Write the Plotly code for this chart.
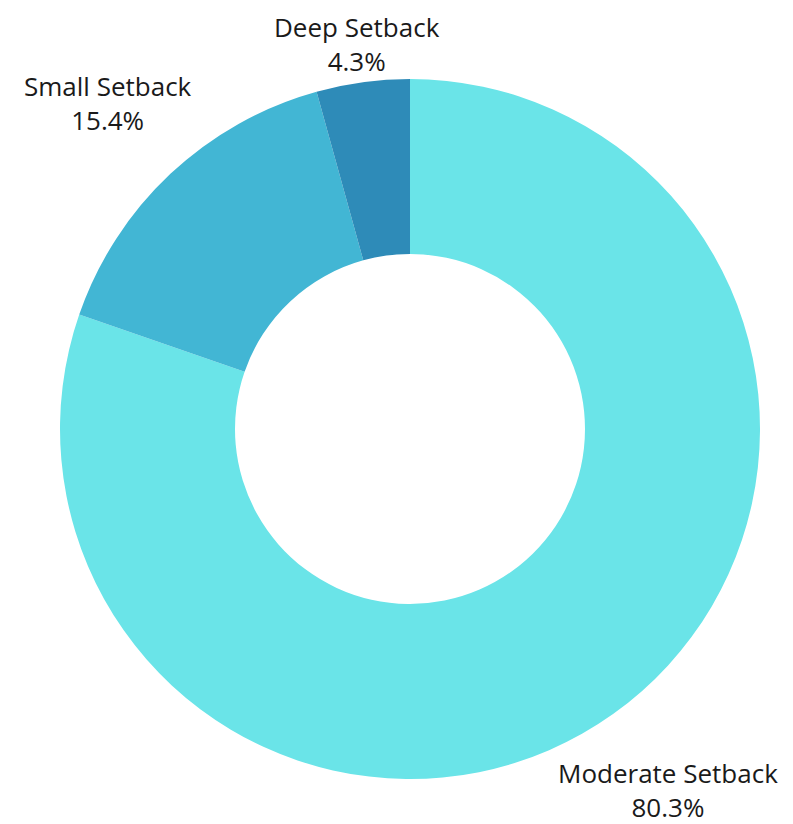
import plotly.graph_objects as go

labels = ["Moderate Setback", "Small Setback", "Deep Setback"]
values = [80.3, 15.4, 4.3]
colors = ["#6AE4E8", "#42B6D4", "#2E8BB8"]

W, H = 793, 824
OFF = 8  # page body margin offset
cx, cy, R = 410 - OFF, 429 - OFF, 350

fig = go.Figure(go.Pie(
    labels=labels, values=values, sort=False, direction="clockwise", rotation=0,
    hole=0.5, marker=dict(colors=colors, line=dict(width=0)),
    textinfo="none", hoverinfo="label+percent", showlegend=False,
    domain=dict(x=[(cx - R) / W, (cx + R) / W], y=[(H - cy - R) / H, (H - cy + R) / H]),
))

# label placement (x centre, y centre of the two-line block) in picture pixels
label_pos = {"Moderate Setback": (668, 792),
             "Small Setback": (108, 106),
             "Deep Setback": (357, None)}
font = dict(family="Open Sans", size=26, color="#1a1a1a")
for lab, val in zip(labels, values):
    x, y = label_pos[lab]
    if y is None:
        ypos, yanc = 1.0, "top"
    else:
        ypos, yanc = 1 - (y - OFF - 2.5) / H, "middle"
    fig.add_annotation(x=(x - OFF) / W, y=ypos, xref="paper", yref="paper",
                       text=f"{lab}<br>{val}%", showarrow=False, font=font, borderpad=0,
                       xanchor="center", yanchor=yanc, align="center")

fig.update_layout(width=W, height=H, margin=dict(l=0, r=0, t=0, b=0),
                  paper_bgcolor="white", plot_bgcolor="white")
fig.write_html("out.html")
